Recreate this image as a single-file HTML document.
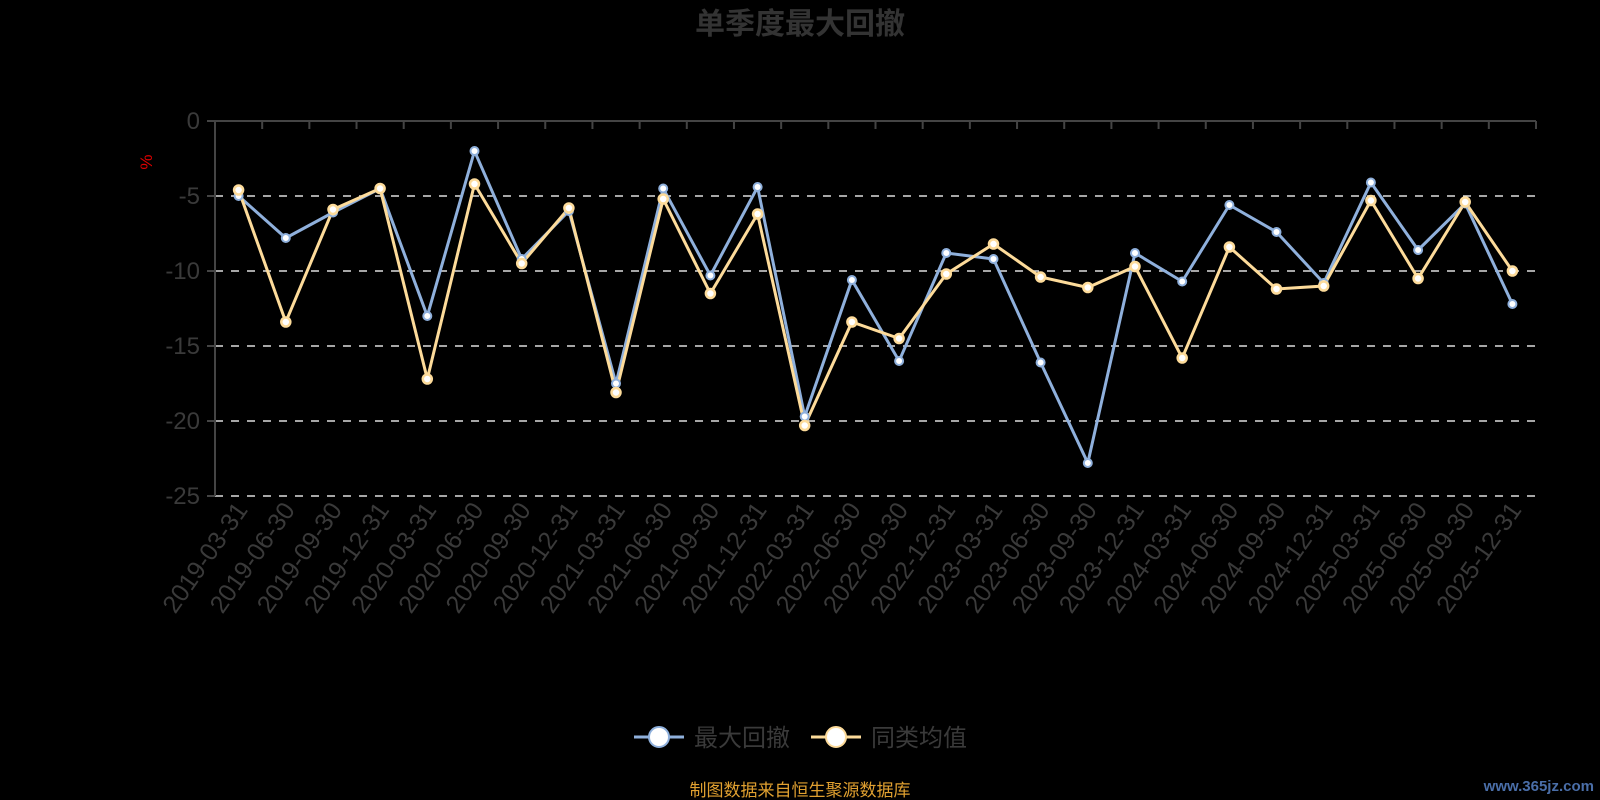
<!DOCTYPE html>
<html><head><meta charset="utf-8"><style>
html,body{margin:0;padding:0;background:#000;}
svg{display:block;font-family:"Liberation Sans","Noto Sans CJK SC",sans-serif;}
</style></head><body>
<svg width="1600" height="800" viewBox="0 0 1600 800">
<rect width="1600" height="800" fill="#000"/>
<text x="800" y="34" text-anchor="middle" font-size="30" font-weight="bold" fill="#333">单季度最大回撤</text>
<g stroke="#ddd" stroke-width="1.5" stroke-dasharray="8,8">
<line x1="215" y1="196" x2="1536" y2="196"/>
<line x1="215" y1="271" x2="1536" y2="271"/>
<line x1="215" y1="346" x2="1536" y2="346"/>
<line x1="215" y1="421" x2="1536" y2="421"/>
<line x1="215" y1="496" x2="1536" y2="496"/>
</g>
<g stroke="#444" stroke-width="2">
<line x1="215" y1="121" x2="1536" y2="121"/>
<line x1="215" y1="121" x2="215" y2="496"/>
<line x1="207" y1="121" x2="215" y2="121"/><line x1="207" y1="196" x2="215" y2="196"/><line x1="207" y1="271" x2="215" y2="271"/><line x1="207" y1="346" x2="215" y2="346"/><line x1="207" y1="421" x2="215" y2="421"/><line x1="207" y1="496" x2="215" y2="496"/>
</g>
<line x1="214" y1="125" x2="1538" y2="125" stroke="#444" stroke-width="8" stroke-dasharray="2 45.179"/>
<g font-size="24" fill="#3a3a3a" text-anchor="end">
<text x="200" y="129">0</text><text x="200" y="204">-5</text><text x="200" y="279">-10</text><text x="200" y="354">-15</text><text x="200" y="429">-20</text><text x="200" y="504">-25</text>
</g>
<text x="152" y="162" font-size="17" fill="#d00" transform="rotate(-90 152 162)" text-anchor="middle">%</text>
<g font-size="25" fill="#3a3a3a" text-anchor="end">
<text transform="translate(248.6,510) rotate(-55)">2019-03-31</text>
<text transform="translate(295.8,510) rotate(-55)">2019-06-30</text>
<text transform="translate(343.0,510) rotate(-55)">2019-09-30</text>
<text transform="translate(390.1,510) rotate(-55)">2019-12-31</text>
<text transform="translate(437.3,510) rotate(-55)">2020-03-31</text>
<text transform="translate(484.5,510) rotate(-55)">2020-06-30</text>
<text transform="translate(531.7,510) rotate(-55)">2020-09-30</text>
<text transform="translate(578.9,510) rotate(-55)">2020-12-31</text>
<text transform="translate(626.0,510) rotate(-55)">2021-03-31</text>
<text transform="translate(673.2,510) rotate(-55)">2021-06-30</text>
<text transform="translate(720.4,510) rotate(-55)">2021-09-30</text>
<text transform="translate(767.6,510) rotate(-55)">2021-12-31</text>
<text transform="translate(814.7,510) rotate(-55)">2022-03-31</text>
<text transform="translate(861.9,510) rotate(-55)">2022-06-30</text>
<text transform="translate(909.1,510) rotate(-55)">2022-09-30</text>
<text transform="translate(956.3,510) rotate(-55)">2022-12-31</text>
<text transform="translate(1003.5,510) rotate(-55)">2023-03-31</text>
<text transform="translate(1050.6,510) rotate(-55)">2023-06-30</text>
<text transform="translate(1097.8,510) rotate(-55)">2023-09-30</text>
<text transform="translate(1145.0,510) rotate(-55)">2023-12-31</text>
<text transform="translate(1192.2,510) rotate(-55)">2024-03-31</text>
<text transform="translate(1239.4,510) rotate(-55)">2024-06-30</text>
<text transform="translate(1286.5,510) rotate(-55)">2024-09-30</text>
<text transform="translate(1333.7,510) rotate(-55)">2024-12-31</text>
<text transform="translate(1380.9,510) rotate(-55)">2025-03-31</text>
<text transform="translate(1428.1,510) rotate(-55)">2025-06-30</text>
<text transform="translate(1475.2,510) rotate(-55)">2025-09-30</text>
<text transform="translate(1522.4,510) rotate(-55)">2025-12-31</text>
</g>
<polyline fill="none" stroke="#8fb0dc" stroke-width="3" points="238.6,196 285.8,238 333.0,212.5 380.1,188.5 427.3,316 474.5,151 521.7,259 568.9,211 616.0,383.5 663.2,188.5 710.4,275.5 757.6,187 804.7,416.5 851.9,280 899.1,361 946.3,253 993.5,259 1040.6,362.5 1087.8,463 1135.0,253 1182.2,281.5 1229.4,205 1276.5,232 1323.7,283 1370.9,182.5 1418.1,250 1465.2,203.5 1512.4,304"/>
<polyline fill="none" stroke="#fddb9a" stroke-width="3" points="238.6,190 285.8,322 333.0,209.5 380.1,188.5 427.3,379 474.5,184 521.7,263.5 568.9,208 616.0,392.5 663.2,199 710.4,293.5 757.6,214 804.7,425.5 851.9,322 899.1,338.5 946.3,274 993.5,244 1040.6,277 1087.8,287.5 1135.0,266.5 1182.2,358 1229.4,247 1276.5,289 1323.7,286 1370.9,200.5 1418.1,278.5 1465.2,202 1512.4,271"/>
<g fill="#fff" stroke="#8fb0dc" stroke-width="2">
<circle cx="238.6" cy="196" r="4"/><circle cx="285.8" cy="238" r="4"/><circle cx="333.0" cy="212.5" r="4"/><circle cx="380.1" cy="188.5" r="4"/><circle cx="427.3" cy="316" r="4"/><circle cx="474.5" cy="151" r="4"/><circle cx="521.7" cy="259" r="4"/><circle cx="568.9" cy="211" r="4"/><circle cx="616.0" cy="383.5" r="4"/><circle cx="663.2" cy="188.5" r="4"/><circle cx="710.4" cy="275.5" r="4"/><circle cx="757.6" cy="187" r="4"/><circle cx="804.7" cy="416.5" r="4"/><circle cx="851.9" cy="280" r="4"/><circle cx="899.1" cy="361" r="4"/><circle cx="946.3" cy="253" r="4"/><circle cx="993.5" cy="259" r="4"/><circle cx="1040.6" cy="362.5" r="4"/><circle cx="1087.8" cy="463" r="4"/><circle cx="1135.0" cy="253" r="4"/><circle cx="1182.2" cy="281.5" r="4"/><circle cx="1229.4" cy="205" r="4"/><circle cx="1276.5" cy="232" r="4"/><circle cx="1323.7" cy="283" r="4"/><circle cx="1370.9" cy="182.5" r="4"/><circle cx="1418.1" cy="250" r="4"/><circle cx="1465.2" cy="203.5" r="4"/><circle cx="1512.4" cy="304" r="4"/>
</g>
<g fill="#fff" stroke="#fddb9a" stroke-width="2.5">
<circle cx="238.6" cy="190" r="4.5"/><circle cx="285.8" cy="322" r="4.5"/><circle cx="333.0" cy="209.5" r="4.5"/><circle cx="380.1" cy="188.5" r="4.5"/><circle cx="427.3" cy="379" r="4.5"/><circle cx="474.5" cy="184" r="4.5"/><circle cx="521.7" cy="263.5" r="4.5"/><circle cx="568.9" cy="208" r="4.5"/><circle cx="616.0" cy="392.5" r="4.5"/><circle cx="663.2" cy="199" r="4.5"/><circle cx="710.4" cy="293.5" r="4.5"/><circle cx="757.6" cy="214" r="4.5"/><circle cx="804.7" cy="425.5" r="4.5"/><circle cx="851.9" cy="322" r="4.5"/><circle cx="899.1" cy="338.5" r="4.5"/><circle cx="946.3" cy="274" r="4.5"/><circle cx="993.5" cy="244" r="4.5"/><circle cx="1040.6" cy="277" r="4.5"/><circle cx="1087.8" cy="287.5" r="4.5"/><circle cx="1135.0" cy="266.5" r="4.5"/><circle cx="1182.2" cy="358" r="4.5"/><circle cx="1229.4" cy="247" r="4.5"/><circle cx="1276.5" cy="289" r="4.5"/><circle cx="1323.7" cy="286" r="4.5"/><circle cx="1370.9" cy="200.5" r="4.5"/><circle cx="1418.1" cy="278.5" r="4.5"/><circle cx="1465.2" cy="202" r="4.5"/><circle cx="1512.4" cy="271" r="4.5"/>
</g>
<line x1="634" y1="737" x2="684" y2="737" stroke="#8fb0dc" stroke-width="3"/>
<circle cx="659" cy="737" r="10" fill="#fff" stroke="#8fb0dc" stroke-width="2"/>
<text x="694" y="746" font-size="24" fill="#3a3a3a">最大回撤</text>
<line x1="811" y1="737" x2="861" y2="737" stroke="#fddb9a" stroke-width="3"/>
<circle cx="836" cy="737" r="10" fill="#fff" stroke="#fddb9a" stroke-width="2"/>
<text x="871" y="746" font-size="24" fill="#3a3a3a">同类均值</text>
<text x="800" y="796" text-anchor="middle" font-size="17" fill="#e0a030">制图数据来自恒生聚源数据库</text>
<text x="1594" y="791" text-anchor="end" font-size="15" font-weight="bold" fill="#4a6ea8">www.365jz.com</text>
</svg>
</body></html>
